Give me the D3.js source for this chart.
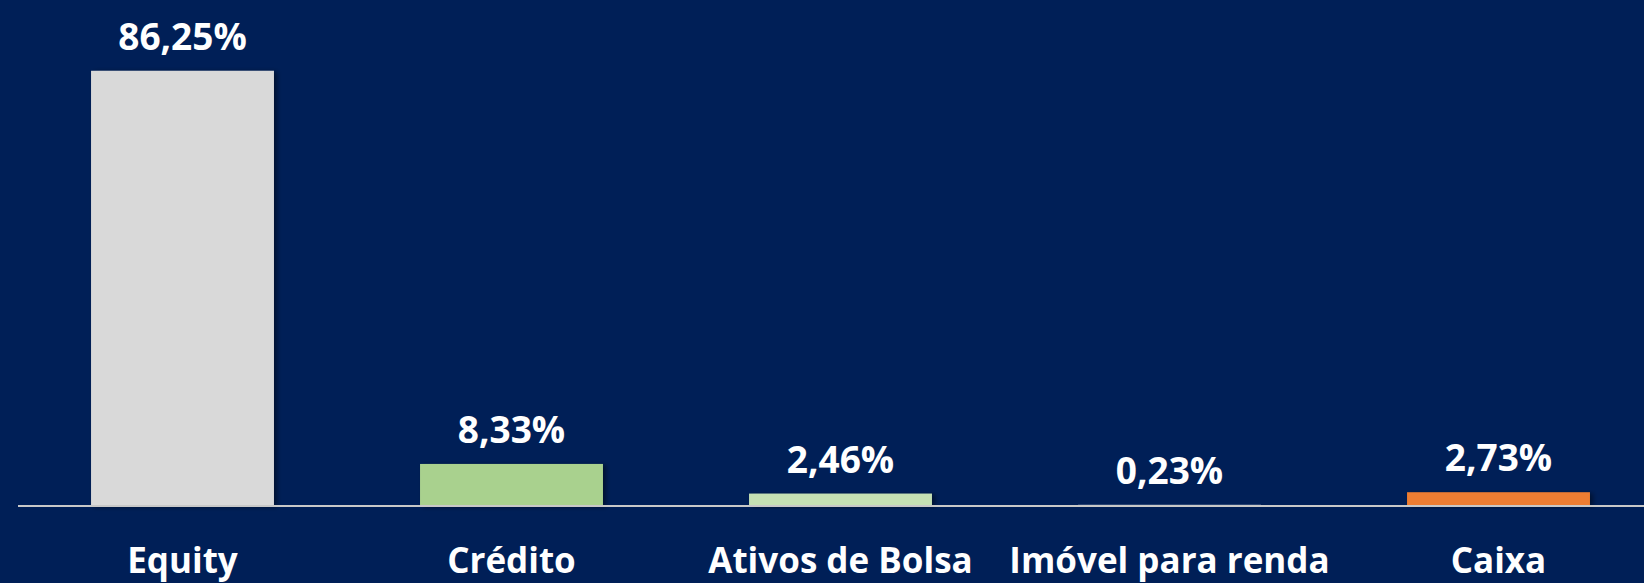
<!DOCTYPE html>
<html>
<head>
  <meta charset="utf-8">
  <title>Alocação</title>
  <style>
    body { margin: 0; background: #001f57; overflow: hidden; }
    .value, .cat {
      font-family: "Open Sans", "Noto Sans", sans-serif;
      font-weight: 700;
      font-size: 35px;
      fill: #fff;
      text-anchor: middle;
    }
    .value { font-size: 37px; }
    .axis-line { stroke: #c8c8c8; stroke-width: 2px; }
  </style>
  <script src="https://d3js.org/d3.v7.min.js"></script>
</head>
<body>
  <script>
    var categories = ["Equity", "Crédito", "Ativos de Bolsa", "Imóvel para renda", "Caixa"];
    var values = [86.25, 8.33, 2.46, 0.23, 2.73];
    var colors = ["#d9d9d9", "#a9d18e", "#c5e0b4", "#dae3f3", "#ed7d31"];

    var width = 1644;
    var height = 583;
    var baseY = 506;

    var svg = d3.select('body')
      .append('svg')
      .attr('width', width)
      .attr('height', height);

    svg.append('rect')
      .attr('width', width)
      .attr('height', height)
      .attr('fill', '#001f57');

    // sombra das barras
    var defs = svg.append('defs');
    defs.append('filter')
        .attr('id', 'sombra')
        .attr('x', '-10%').attr('y', '-10%')
        .attr('width', '130%').attr('height', '130%')
      .append('feDropShadow')
        .attr('dx', 3)
        .attr('dy', 1)
        .attr('stdDeviation', 2.5)
        .attr('flood-color', '#000')
        .attr('flood-opacity', 0.45);

    var x = d3.scaleBand()
      .domain(categories)
      .range([18, 18 + 5 * 329])
      .paddingInner(0.444)
      .paddingOuter(0.222);

    var y = d3.scaleLinear()
      .domain([0, 100])
      .range([baseY, 1.4]);

    var data = categories.map((c, i) => ({ cat: c, value: values[i], color: colors[i] }));

    // barras
    svg.selectAll('.bar')
      .data(data)
      .enter()
      .append('rect')
        .attr('class', 'bar')
        .attr('x', d => x(d.cat))
        .attr('y', d => y(d.value))
        .attr('width', x.bandwidth())
        .attr('height', d => baseY - y(d.value))
        .attr('fill', d => d.color)
        .attr('filter', 'url(#sombra)');

    // linha do eixo
    svg.append('line')
      .attr('class', 'axis-line')
      .attr('x1', 18)
      .attr('x2', width)
      .attr('y1', baseY)
      .attr('y2', baseY);

    // rótulos de valor
    svg.selectAll('.value')
      .data(data)
      .enter()
      .append('text')
        .attr('class', 'value')
        .attr('x', d => x(d.cat) + x.bandwidth() / 2)
        .attr('y', d => y(d.value) - 21)
        .text(d => d3.format('.2f')(d.value).replace('.', ',') + '%');

    // categorias
    svg.selectAll('.cat')
      .data(data)
      .enter()
      .append('text')
        .attr('class', 'cat')
        .attr('x', d => x(d.cat) + x.bandwidth() / 2)
        .attr('y', 573)
        .text(d => d.cat);
  </script>
</body>
</html>
